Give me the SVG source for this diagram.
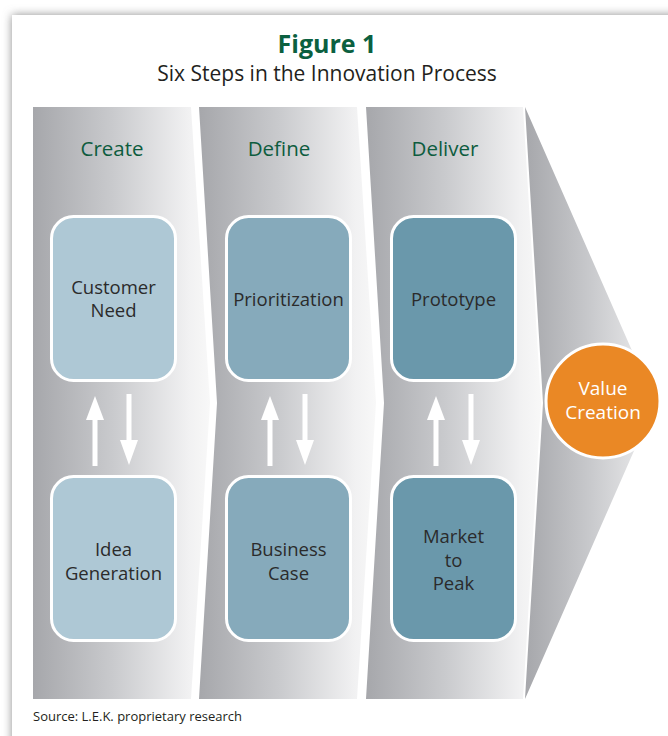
<svg xmlns="http://www.w3.org/2000/svg" width="668" height="736" viewBox="0 0 668 736">
  <defs>
    <linearGradient id="colGrad" x1="0" y1="0" x2="1" y2="0">
      <stop offset="0" stop-color="#a6a7ab"/>
      <stop offset="0.45" stop-color="#c9cacd"/>
      <stop offset="0.88" stop-color="#f1f1f2"/>
      <stop offset="1" stop-color="#f8f8f8"/>
    </linearGradient>
    <linearGradient id="arrowGrad" x1="0" y1="0" x2="1" y2="0">
      <stop offset="0" stop-color="#a6a7ab"/>
      <stop offset="0.5" stop-color="#c8c9cc"/>
      <stop offset="1" stop-color="#eeeeef"/>
    </linearGradient>
    <filter id="shadow" x="-0.1" y="-0.1" width="1.2" height="1.2">
      <feGaussianBlur stdDeviation="5"/>
    </filter>
    <style>
      .title { font-family: "Open Sans", "Noto Sans", "Liberation Sans", sans-serif; font-weight: 700; font-size: 25px; fill: #0b6040; text-anchor: middle; }
      .subtitle { font-family: "Open Sans", "Noto Sans", "Liberation Sans", sans-serif; font-size: 21px; fill: #231f20; text-anchor: middle; }
      .phase { font-family: "Open Sans", "Noto Sans", "Liberation Sans", sans-serif; font-size: 20.5px; fill: #0d5c3e; text-anchor: middle; }
      .col { fill: url(#colGrad); }
      .box { stroke: #ffffff; stroke-width: 3; }
      .b1 { fill: #aec8d5; }
      .b2 { fill: #86aabb; }
      .b3 { fill: #6a98ab; }
      .btext { font-family: "Open Sans", "Noto Sans", "Liberation Sans", sans-serif; font-size: 18.5px; fill: #2b2b2b; text-anchor: middle; }
      .vtext { font-family: "Open Sans", "Noto Sans", "Liberation Sans", sans-serif; font-size: 19px; fill: #ffffff; text-anchor: middle; }
      .source { font-family: "Open Sans", "Noto Sans", "Liberation Sans", sans-serif; font-size: 13px; fill: #231f20; }
      .arr { fill: #ffffff; }
    </style>
  </defs>

  <!-- page and card -->
  <rect x="0" y="0" width="668" height="736" fill="#ffffff"/>
  <rect x="12" y="15" width="680" height="740" fill="#8c8c8c" filter="url(#shadow)"/>
  <rect x="12" y="15" width="680" height="740" fill="#ffffff"/>

  <!-- titles -->
  <text class="title" x="327" y="53">Figure 1</text>
  <text class="subtitle" x="327" y="81">Six Steps in the Innovation Process</text>

  <!-- chevron columns -->
  <g id="columns">
    <path class="col" d="M33,107 H191 L210,403 L191,699 H33 Z"/>
    <path class="col" d="M199,107 H357 L376,403 L357,699 H199 L217,403 Z"/>
    <path class="col" d="M366,107 H523 L541,403 L523,699 H366 L384,403 Z"/>
    <path fill="url(#arrowGrad)" d="M525,107 L655,403 L525,699 L543,403 Z"/>
  </g>

  <!-- phase labels -->
  <text class="phase" x="112" y="156">Create</text>
  <text class="phase" x="279" y="156">Define</text>
  <text class="phase" x="445" y="156">Deliver</text>

  <!-- nodes -->
  <g id="customer-need">
    <rect class="box b1" x="51.5" y="216.5" width="124" height="164" rx="22"/>
    <text class="btext" x="113.5" y="294">Customer</text>
    <text class="btext" x="113.5" y="317">Need</text>
  </g>
  <g id="idea-generation">
    <rect class="box b1" x="51.5" y="476.5" width="124" height="164" rx="22"/>
    <text class="btext" x="113.5" y="556">Idea</text>
    <text class="btext" x="113.5" y="580">Generation</text>
  </g>
  <g id="prioritization">
    <rect class="box b2" x="226.5" y="216.5" width="124" height="164" rx="22"/>
    <text class="btext" x="288.5" y="306">Prioritization</text>
  </g>
  <g id="business-case">
    <rect class="box b2" x="226.5" y="476.5" width="124" height="164" rx="22"/>
    <text class="btext" x="288.5" y="556">Business</text>
    <text class="btext" x="288.5" y="580">Case</text>
  </g>
  <g id="prototype">
    <rect class="box b3" x="391.5" y="216.5" width="124" height="164" rx="22"/>
    <text class="btext" x="453.5" y="306">Prototype</text>
  </g>
  <g id="market-to-peak">
    <rect class="box b3" x="391.5" y="476.5" width="124" height="164" rx="22"/>
    <text class="btext" x="453.5" y="543">Market</text>
    <text class="btext" x="453.5" y="567">to</text>
    <text class="btext" x="453.5" y="590">Peak</text>
  </g>
  <g id="value-creation">
    <circle cx="603" cy="401" r="57" fill="#ea8825" stroke="#ffffff" stroke-width="3"/>
    <text class="vtext" x="603" y="395">Value</text>
    <text class="vtext" x="603" y="419">Creation</text>
  </g>

  <!-- connectors -->
  <g id="connectors">
    <path class="arr" d="M92.5,466 V420 H86 L95,396 L104,420 H97.5 V466 Z"/>
    <path class="arr" d="M126.5,394 V440 H120 L129,465 L138,440 H131.5 V394 Z"/>
    <path class="arr" d="M267.5,466 V420 H261 L270,396 L279,420 H272.5 V466 Z"/>
    <path class="arr" d="M302.5,394 V440 H296 L305,465 L314,440 H307.5 V394 Z"/>
    <path class="arr" d="M433.5,466 V420 H427 L436,396 L445,420 H438.5 V466 Z"/>
    <path class="arr" d="M468.5,394 V440 H462 L471,465 L480,440 H473.5 V394 Z"/>
  </g>

  <text class="source" x="33" y="721">Source: L.E.K. proprietary research</text>
</svg>
